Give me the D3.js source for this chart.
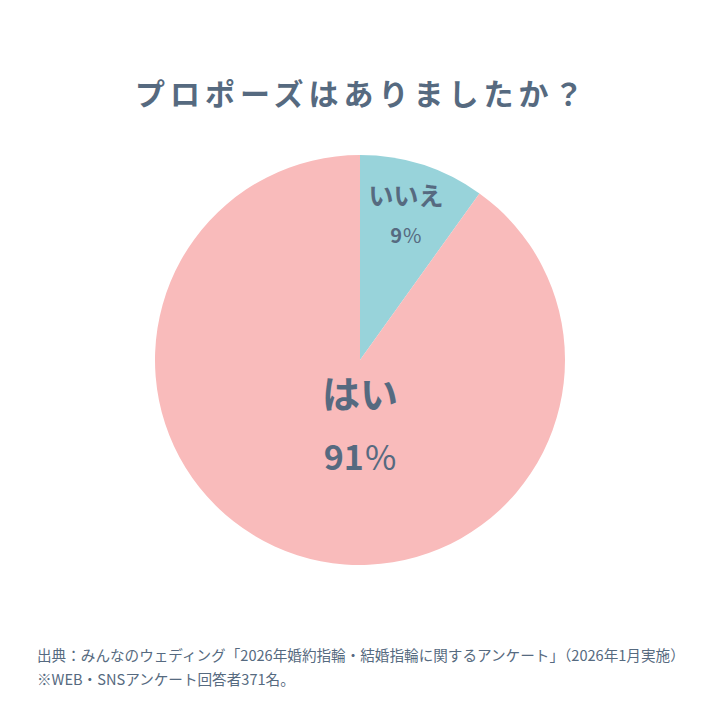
<!DOCTYPE html>
<html>
<head>
<meta charset="utf-8">
<script src="https://cdn.jsdelivr.net/npm/d3@7"></script>
<style>
  body { margin: 0; background: #fff; }
  text { font-family: "Noto Sans CJK JP", "Noto Sans", sans-serif; }
</style>
</head>
<body>
<div id="chart"></div>
<script>
// data
let categories = ["いいえ", "はい"];
let shares = [9.9, 90.1];          // slice sizes as drawn
let pctNumbers = ["9", "91"];       // printed labels
let colors = ["#98d3da", "#f9bbbb"];

let title = "プロポーズはありましたか？";
let notes = [
  "出典：みんなのウェディング「2026年婚約指輪・結婚指輪に関するアンケート」（2026年1月実施）",
  "※WEB・SNSアンケート回答者371名。"
];

let size = 720;
let cx = 360, cy = 360, radius = 205;
let textColor = "#566a80";

let svg = d3.select("#chart").append("svg")
  .attr("width", size)
  .attr("height", size);

svg.append("text")
  .attr("x", 135)
  .attr("y", 105)
  .attr("font-size", 30)
  .attr("font-weight", 700)
  .attr("letter-spacing", 5)
  .attr("fill", textColor)
  .text(title);

let pie = d3.pie().sort(null).value(d => d.share);
let arc = d3.arc().innerRadius(0).outerRadius(radius);

let rows = categories.map((c, i) => ({ name: c, share: shares[i], num: pctNumbers[i], color: colors[i] }));
let arcs = pie(rows);

let g = svg.append("g").attr("transform", `translate(${cx},${cy})`);

g.selectAll("path")
  .data(arcs)
  .enter()
  .append("path")
  .attr("d", arc)
  .attr("fill", d => d.data.color);

// label spots: small slice on its centroid, big slice straight below centre
let smallArc = d3.arc().innerRadius(150).outerRadius(150);
function labelPos(d, i) {
  if (i === 0) {
    let c = smallArc.centroid(d);
    return [c[0], c[1]];
  }
  return [0, 78];
}

let fontSizes = [[25, 20], [38, 34]];
let gaps = [[-12, 26], [-30, 32]];

arcs.forEach(function(d, i) {
  let p = labelPos(d, i);
  g.append("text")
    .attr("x", p[0])
    .attr("y", p[1] + gaps[i][0])
    .attr("text-anchor", "middle")
    .attr("font-size", fontSizes[i][0])
    .attr("font-weight", 700)
    .attr("fill", textColor)
    .text(d.data.name);
  let t = g.append("text")
    .attr("x", p[0])
    .attr("y", p[1] + gaps[i][1])
    .attr("text-anchor", "middle")
    .attr("font-size", fontSizes[i][1])
    .attr("font-weight", 700)
    .attr("fill", textColor);
  t.append("tspan").text(d.data.num);
  t.append("tspan").attr("font-weight", 400).attr("dx", 1).text("%");
});

svg.selectAll(".note")
  .data(notes)
  .enter()
  .append("text")
  .attr("class", "note")
  .attr("x", 37)
  .attr("y", (d, i) => 661 + i * 24)
  .attr("font-size", 14.6)
  .attr("fill", textColor)
  .text(d => d);
</script>
</body>
</html>
